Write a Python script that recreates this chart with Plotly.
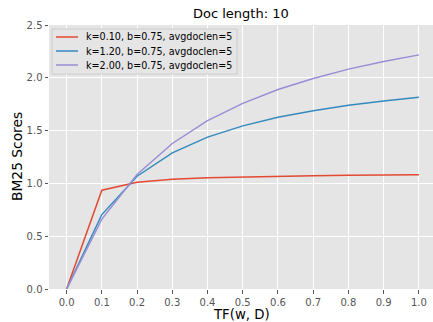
import plotly.graph_objects as go

tf = [0.0, 0.1, 0.2, 0.3, 0.4, 0.5, 0.6, 0.7, 0.8, 0.9, 1.0]
labels = ["k=0.10, b=0.75, avgdoclen=5", "k=1.20, b=0.75, avgdoclen=5", "k=2.00, b=0.75, avgdoclen=5"]
s_k010 = [0.0, 0.935, 1.011, 1.039, 1.053, 1.062, 1.069, 1.073, 1.076, 1.079, 1.081]
s_k120 = [0.0, 0.705, 1.068, 1.289, 1.438, 1.545, 1.626, 1.689, 1.739, 1.781, 1.815]
s_k200 = [0.0, 0.662, 1.085, 1.378, 1.594, 1.758, 1.889, 1.994, 2.082, 2.155, 2.217]
colors = ["#E24A33", "#348ABD", "#988ED5"]
xticks = [0.0, 0.1, 0.2, 0.3, 0.4, 0.5, 0.6, 0.7, 0.8, 0.9, 1.0]
yticks = [0.0, 0.5, 1.0, 1.5, 2.0, 2.5]

W, H = 433, 322
L, R, T, B = 49, 0, 25, 33
PW, PH = W - L - R, H - T - B

def px(x):  # pixel -> paper x
    return (x - L) / PW

def py(y):  # pixel -> paper y
    return (H - B - y) / PH

fig = go.Figure()
for lab, ys, c in zip(labels, [s_k010, s_k120, s_k200], colors):
    fig.add_trace(go.Scatter(x=tf, y=ys, mode="lines", name=lab, showlegend=False,
                             line=dict(color=c, width=1.5)))

axis_common = dict(showgrid=True, gridcolor="white", gridwidth=1, zeroline=False,
                   ticks="outside", ticklen=3.5, tickcolor="#555555", tickwidth=1,
                   tickfont=dict(family="DejaVu Sans", size=10, color="#555555"),
                   showline=False, automargin=False)

shapes = [dict(type="rect", xref="paper", yref="paper",
               x0=px(52), x1=px(237), y0=py(74), y1=py(29),
               fillcolor="#E5E5E5", line=dict(color="#CCCCCC", width=1), layer="above")]
annotations = []
for i, (lab, c) in enumerate(zip(labels, colors)):
    yy = 37 + 14 * i
    shapes.append(dict(type="line", xref="paper", yref="paper",
                       x0=px(56), x1=px(78), y0=py(yy), y1=py(yy),
                       line=dict(color=c, width=1.5), layer="above"))
    annotations.append(dict(text=lab, xref="paper", yref="paper", x=px(84), y=py(yy),
                            xanchor="left", yanchor="middle", showarrow=False,
                            font=dict(family="DejaVu Sans", size=9.6, color="black")))

annotations += [
    dict(text="TF(w, D)", xref="paper", yref="paper", x=0.5, y=py(314),
         xanchor="center", yanchor="middle", showarrow=False,
         font=dict(family="DejaVu Sans", size=13.3, color="black")),
    dict(text="BM25 Scores", xref="paper", yref="paper", x=px(17), y=0.5,
         xanchor="center", yanchor="middle", showarrow=False, textangle=-90,
         font=dict(family="DejaVu Sans", size=13.8, color="black")),
    dict(text="Doc length: 10", xref="paper", yref="paper", x=0.5, y=py(13),
         xanchor="center", yanchor="middle", showarrow=False,
         font=dict(family="DejaVu Sans", size=13, color="black")),
]

fig.update_layout(
    width=W, height=H,
    margin=dict(l=L, r=R, t=T, b=B),
    paper_bgcolor="white", plot_bgcolor="#E5E5E5",
    xaxis=dict(range=[-0.05, 1.04], tickvals=xticks, ticktext=[f"{v:.1f}" for v in xticks],
               **axis_common),
    yaxis=dict(range=[0, 2.5], tickvals=yticks, ticktext=[f"{v:.1f}" for v in yticks],
               **axis_common),
    shapes=shapes, annotations=annotations,
    showlegend=False,
)
fig.write_html("out.html", config={"displayModeBar": False},
               post_script="document.body.style.margin='0';document.body.style.overflow='hidden';")
